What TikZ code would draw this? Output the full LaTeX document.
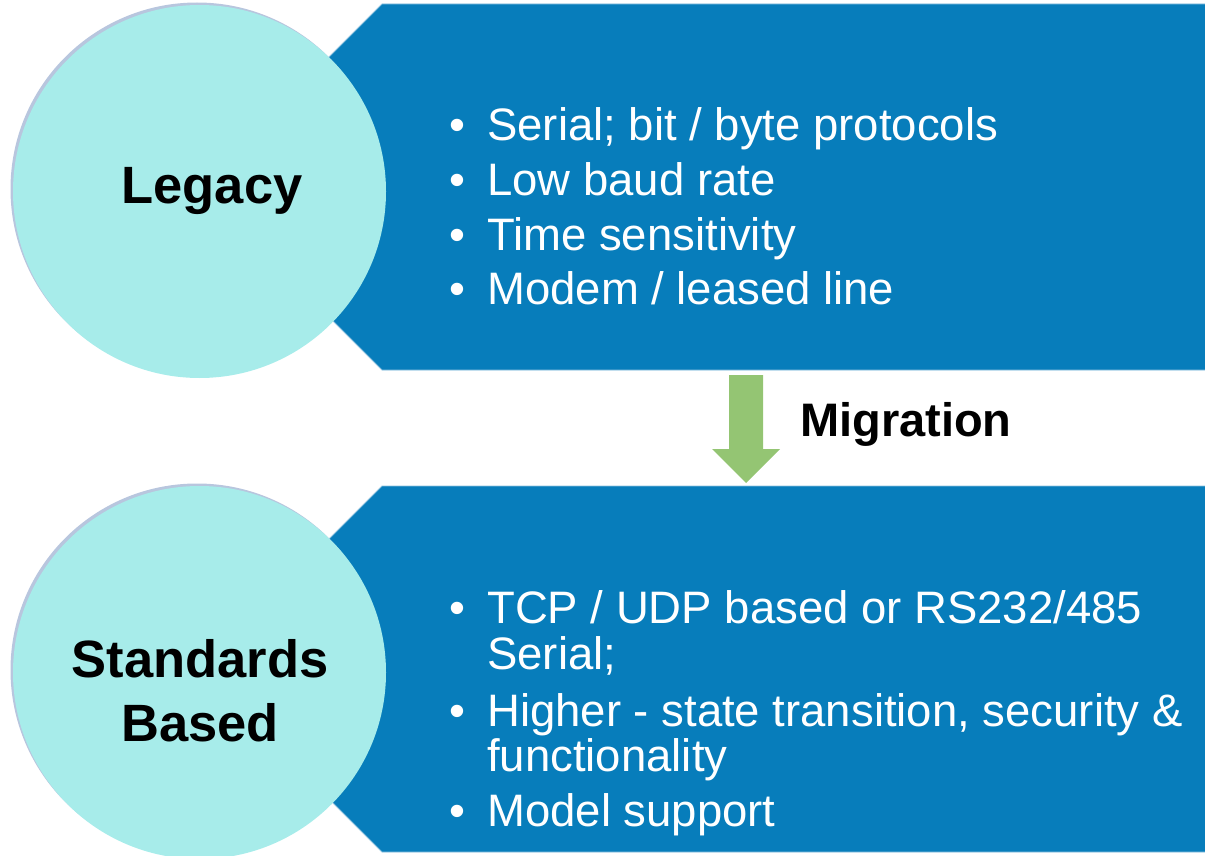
\documentclass[tikz,border=0pt]{standalone}
\usepackage{fontspec}
\setmainfont{Liberation Sans}
\definecolor{panelblue}{RGB}{7,125,187}
\definecolor{edgeblue}{RGB}{140,192,222}
\definecolor{circlefill}{RGB}{167,236,234}
\definecolor{circleshadow}{RGB}{184,198,222}
\definecolor{arrowgreen}{RGB}{148,197,115}
\begin{document}
\begin{tikzpicture}[x=1pt,y=-1pt,
  panel/.style={fill=panelblue, draw=edgeblue, line width=0.8pt},
  badge/.style={circle, fill=circlefill, minimum size=373pt, inner sep=0pt},
  badgeshadow/.style={circle, fill=circleshadow, minimum size=373pt, inner sep=0pt},
  title/.style={inner sep=0pt, anchor=base, font=\fontsize{52.5}{64}\selectfont\bfseries, text=black},
  itemtext/.style={inner sep=0pt, anchor=base west, font=\fontsize{45.5}{54}\selectfont, text=white},
  dot/.style={inner sep=0pt, anchor=base west, font=\fontsize{45.5}{54}\selectfont, text=white},
  caption/.style={inner sep=0pt, anchor=base west, font=\fontsize{47}{56}\selectfont\bfseries, text=black}
]
\useasboundingbox (0,0) rectangle (1205,856);

% upper panel: legacy properties
\draw[panel] (382,4) -- (1206,4) -- (1206,370) -- (382,370) -- (199,187) -- cycle;
% lower panel: standards based properties
\draw[panel] (382,486) -- (1206,486) -- (1206,852) -- (382,852) -- (199,669) -- cycle;

% badges with a faint offset shadow
\node[badgeshadow] (legacyshadow) at (197,189) {};
\node[badge] (legacycircle) at (199.5,191.5) {};
\node[badgeshadow] (stdshadow) at (197,670) {};
\node[badge] (stdcircle) at (199.5,672.5) {};

\node[title] (legacylabel) at (212,204) {Legacy};
\node[title] (stdlabel1) at (200,677) {Standards};
\node[title] (stdlabel2) at (200,741) {Based};

% upper list
\node[dot] (b1) at (449,141) {•};
\node[itemtext] (t1) at (487,141) {Serial; bit / byte protocols};
\node[dot] (b2) at (449,195) {•};
\node[itemtext] (t2) at (487,195) {Low baud rate};
\node[dot] (b3) at (449,250) {•};
\node[itemtext] (t3) at (487,250) {Time sensitivity};
\node[dot] (b4) at (449,304) {•};
\node[itemtext] (t4) at (487,304) {Modem / leased line};

% lower list
\node[dot] (c1) at (449,623) {•};
\node[itemtext] (u1) at (487,623) {TCP / UDP based or RS232/485};
\node[itemtext] (u1b) at (487,669) {Serial;};
\node[dot] (c2) at (449,726) {•};
\node[itemtext] (u2) at (487,726) {Higher - state transition, security \&};
\node[itemtext] (u2b) at (487,771) {functionality};
\node[dot] (c3) at (449,826) {•};
\node[itemtext] (u3) at (487,826) {Model support};

% migration arrow
\fill[arrowgreen] (729,375) -- (763,375) -- (763,449) -- (780,449) -- (746,483)
  -- (712,449) -- (729,449) -- cycle;
\node[caption] (migration) at (800,436) {Migration};
\end{tikzpicture}
\end{document}
